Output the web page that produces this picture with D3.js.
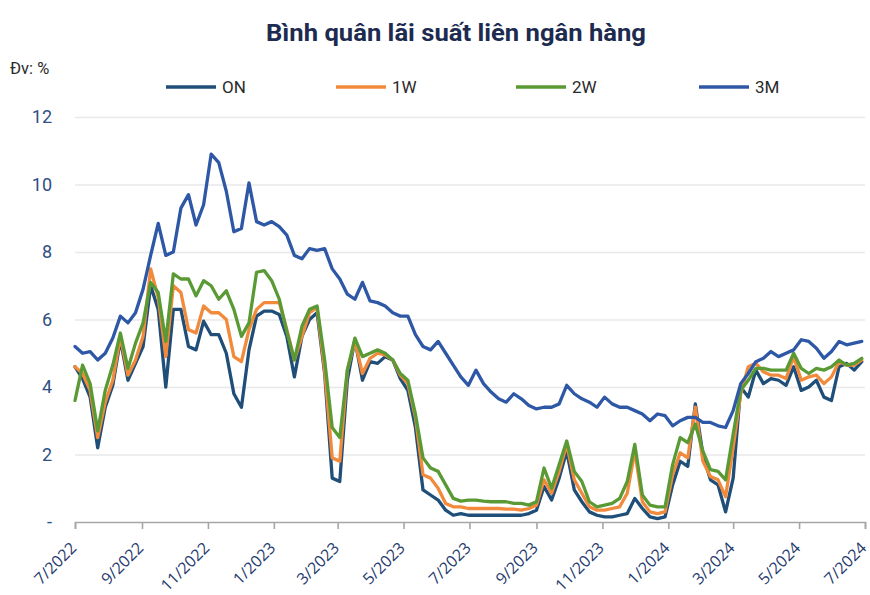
<!DOCTYPE html>
<html>
<head>
<meta charset="utf-8">
<script src="https://cdn.jsdelivr.net/npm/d3@7"></script>
<style>
  body { margin: 0; background: #fff; }
  #chart { width: 870px; height: 595px; }
  .grid line { stroke: #e8e8e8; stroke-width: 1.3; }
  .grid path { display: none; }
  .x.axis path, .x.axis line { stroke: #a6a6a6; stroke-width: 1.6; }
  .x.axis text { fill: #1f3a6e; font-family: "Open Sans", sans-serif; font-size: 16px; }
  .y.axis path, .y.axis line { display: none; }
  .y.axis text { fill: #2f4e85; font-family: Roboto, sans-serif; font-size: 18px; }
  .series { fill: none; stroke-width: 3.3; stroke-linejoin: round; stroke-linecap: round; }
</style>
</head>
<body>
<div id="chart"></div>
<script>
// weekly samples, starting 1/7/2022
var startDate = new Date(2022, 6, 1);

var onRate = [4.6, 4.25, 3.7, 2.2, 3.4, 4.05, 5.4, 4.2, 4.7, 5.2,
    7.0, 6.3, 4.0, 6.3, 6.3, 5.2, 5.1, 5.95, 5.55, 5.55,
    5.0, 3.8, 3.4, 5.1, 6.1, 6.25, 6.25, 6.15, 5.5, 4.3,
    5.5, 6.0, 6.2, 4.4, 1.3, 1.2, 4.2, 5.4, 4.2, 4.75,
    4.7, 4.9, 4.8, 4.25, 3.9, 2.8, 0.95, 0.8, 0.65, 0.35,
    0.2, 0.25, 0.2, 0.2, 0.2, 0.2, 0.2, 0.2, 0.2, 0.2,
    0.25, 0.35, 1.05, 0.65, 1.3, 2.1, 0.95, 0.6, 0.3, 0.2,
    0.15, 0.15, 0.2, 0.25, 0.7, 0.4, 0.15, 0.1, 0.15, 1.1,
    1.8, 1.65, 3.5, 2.0, 1.25, 1.1, 0.3, 1.3, 4.0, 3.7,
    4.5, 4.1, 4.25, 4.2, 4.05, 4.6, 3.9, 4.0, 4.2, 3.7,
    3.6, 4.6, 4.7, 4.5, 4.75];

var w1Rate = [4.6, 4.4, 3.9, 2.5, 3.55, 4.2, 5.5, 4.35, 4.8, 5.5,
    7.5, 6.65, 4.9, 7.0, 6.8, 5.7, 5.6, 6.4, 6.2, 6.2,
    6.0, 4.9, 4.75, 5.7, 6.3, 6.5, 6.5, 6.5, 5.7, 4.8,
    5.5, 6.2, 6.35, 4.5, 1.9, 1.8, 4.5, 5.35, 4.4, 4.85,
    5.0, 4.95, 4.8, 4.35, 4.1, 3.1, 1.4, 1.3, 1.0, 0.55,
    0.45, 0.45, 0.4, 0.4, 0.4, 0.4, 0.4, 0.38, 0.38, 0.35,
    0.4, 0.5, 1.25, 0.85, 1.5, 2.3, 1.25, 0.85, 0.45, 0.35,
    0.35, 0.4, 0.45, 0.85, 2.1, 0.6, 0.3, 0.25, 0.3, 1.4,
    2.05, 1.9, 3.4, 1.8, 1.35, 1.25, 0.75, 2.2, 3.8, 4.6,
    4.7, 4.45, 4.35, 4.35, 4.25, 4.9, 4.2, 4.3, 4.35, 4.1,
    4.3, 4.75, 4.65, 4.65, 4.8];

var w2Rate = [3.6, 4.65, 4.1, 2.7, 3.9, 4.65, 5.6, 4.55, 5.3, 5.9,
    7.1, 6.8, 5.35, 7.35, 7.2, 7.2, 6.7, 7.15, 7.0, 6.6,
    6.85, 6.3, 5.5, 5.9, 7.4, 7.45, 7.15, 6.6, 5.65, 4.8,
    5.8, 6.3, 6.4, 4.8, 2.8, 2.5, 4.5, 5.45, 4.9, 5.0,
    5.1, 5.0, 4.8, 4.4, 4.2, 3.2, 1.9, 1.6, 1.5, 1.1,
    0.7, 0.62, 0.65, 0.65, 0.62, 0.6, 0.6, 0.6, 0.55, 0.55,
    0.5, 0.6, 1.6, 1.0, 1.7, 2.4, 1.5, 1.2, 0.6, 0.45,
    0.5, 0.55, 0.7, 1.2, 2.3, 0.8, 0.5, 0.45, 0.45, 1.7,
    2.5, 2.35, 2.9, 2.1, 1.55, 1.5, 1.25, 2.6, 3.9, 4.2,
    4.55, 4.55, 4.5, 4.5, 4.5, 5.0, 4.55, 4.4, 4.55, 4.5,
    4.6, 4.8, 4.65, 4.7, 4.85];

var m3Rate = [5.2, 5.0, 5.05, 4.8, 5.0, 5.45, 6.1, 5.9, 6.2, 6.9,
    7.9, 8.85, 7.9, 8.0, 9.3, 9.7, 8.8, 9.4, 10.9, 10.65,
    9.8, 8.6, 8.7, 10.05, 8.9, 8.8, 8.9, 8.75, 8.5, 7.9,
    7.8, 8.1, 8.05, 8.1, 7.5, 7.2, 6.75, 6.6, 7.1, 6.55,
    6.5, 6.4, 6.2, 6.1, 6.1, 5.55, 5.2, 5.1, 5.35, 5.0,
    4.65, 4.3, 4.05, 4.5, 4.1, 3.85, 3.65, 3.55, 3.8, 3.65,
    3.45, 3.35, 3.4, 3.4, 3.5, 4.05, 3.8, 3.65, 3.55, 3.4,
    3.7, 3.5, 3.4, 3.4, 3.3, 3.2, 3.0, 3.2, 3.15, 2.85,
    3.0, 3.1, 3.1, 2.95, 2.95, 2.85, 2.8, 3.3, 4.1, 4.4,
    4.75, 4.85, 5.05, 4.9, 5.0, 5.1, 5.4, 5.35, 5.15, 4.85,
    5.05, 5.35, 5.25, 5.3, 5.35];

var seriesNames = ["ON", "1W", "2W", "3M"];
var seriesColors = ["#1f4e79", "#f28a3c", "#5a9a34", "#2e58a6"];
var yTicks = [0, 2, 4, 6, 8, 10, 12];
var xTickDates = [
    new Date(2022, 6, 1), new Date(2022, 8, 1), new Date(2022, 10, 1),
    new Date(2023, 0, 1), new Date(2023, 2, 1), new Date(2023, 4, 1),
    new Date(2023, 6, 1), new Date(2023, 8, 1), new Date(2023, 10, 1),
    new Date(2024, 0, 1), new Date(2024, 2, 1), new Date(2024, 4, 1),
    new Date(2024, 6, 1)];

function renderChart() {
    var outerWidth = 870, outerHeight = 595;
    var margin = {top: 117, right: 5, bottom: 73, left: 75};
    var width = outerWidth - margin.left - margin.right;
    var height = outerHeight - margin.top - margin.bottom;

    var root = d3.select("#chart").append("svg")
        .attr("width", outerWidth)
        .attr("height", outerHeight);

    // title and unit
    root.append("text")
        .attr("x", 266).attr("y", 41)
        .attr("textLength", 380)
        .attr("lengthAdjust", "spacingAndGlyphs")
        .style("font-family", "Roboto, sans-serif")
        .style("font-weight", "bold")
        .style("font-size", "23px")
        .style("fill", "#1c2b4f")
        .text("Bình quân lãi suất liên ngân hàng");

    root.append("text")
        .attr("x", 10).attr("y", 74)
        .style("font-family", "Roboto, sans-serif")
        .style("font-size", "16.5px")
        .style("fill", "#2a2a2a")
        .text("Đv: %");

    // legend
    var legendX = [166, 336, 516, 699];
    var legend = root.selectAll(".legend")
        .data(seriesNames)
        .enter().append("g")
        .attr("class", "legend")
        .attr("transform", (d, i) => "translate(" + legendX[i] + ",87)");
    legend.append("line")
        .attr("x1", 0).attr("x2", 50)
        .attr("stroke", (d, i) => seriesColors[i])
        .attr("stroke-width", 3.5);
    legend.append("text")
        .attr("x", 56).attr("y", 6)
        .style("font-family", "Roboto, sans-serif")
        .style("font-size", "17px")
        .style("fill", "#2a2a2a")
        .text(d => d);

    var svg = root.append("g")
        .attr("transform", "translate(" + margin.left + "," + margin.top + ")");

    var dates = onRate.map((d, i) => d3.timeDay.offset(startDate, i * 7));

    var xScale = d3.scaleTime()
        .domain([xTickDates[0], xTickDates[xTickDates.length - 1]])
        .range([0, width]);

    var yScale = d3.scaleLinear()
        .domain([0, 12])
        .range([height, 0]);

    // Y gridlines
    svg.append("g")
        .attr("class", "grid")
        .call(d3.axisLeft(yScale)
              .tickValues(yTicks.slice(1))
              .tickSize(-width)
              .tickFormat(""));

    // Y axis labels
    svg.append("g")
        .attr("class", "y axis")
        .attr("transform", "translate(-20,0)")
        .call(d3.axisLeft(yScale)
              .tickValues(yTicks)
              .tickSize(0)
              .tickFormat(d => d === 0 ? "-" : d));

    // X axis
    svg.append("g")
        .attr("class", "x axis")
        .attr("transform", "translate(0," + height + ")")
        .call(d3.axisBottom(xScale)
              .tickValues(xTickDates)
              .tickSizeOuter(0)
              .tickSize(7)
              .tickFormat(d => (d.getMonth() + 1) + "/" + d.getFullYear()))
        .selectAll("text")
        .style("text-anchor", "end")
        .attr("x", 0)
        .attr("y", 0)
        .attr("dy", 0)
        .attr("transform", "translate(2,27) rotate(-45)");

    var allSeries = [onRate, w1Rate, w2Rate, m3Rate];
    var line = d3.line()
        .x((d, i) => xScale(dates[i]))
        .y(d => yScale(d));

    svg.selectAll(".series")
        .data(allSeries)
        .enter().append("path")
        .attr("class", "series")
        .attr("stroke", (d, i) => seriesColors[i])
        .attr("d", line);
}

renderChart();
</script>
</body>
</html>
